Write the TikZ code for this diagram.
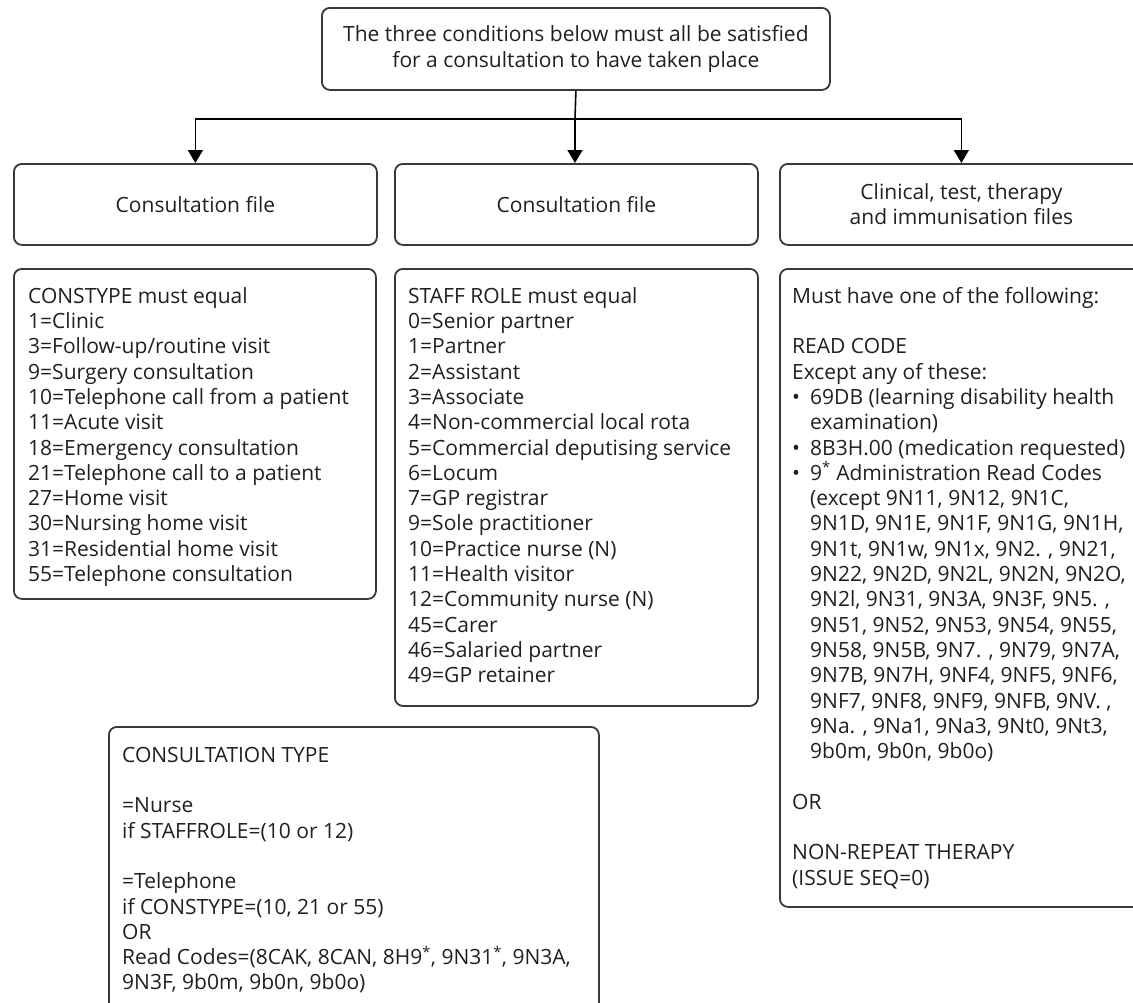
\documentclass[tikz,border=0pt]{standalone}
\usepackage{fontspec}
\setmainfont{Open Sans}
\usetikzlibrary{arrows.meta}
\definecolor{txt}{HTML}{231F20}
\definecolor{edge}{HTML}{383838}
\tikzset{
  boxshape/.style={draw=edge, line width=1.8pt, rounded corners=8pt, anchor=north west, inner sep=0pt},
  bodytext/.style={anchor=north west, inner sep=0pt, align=left, text=txt, font=\fontsize{21}{25.3}\selectfont},
  headtext/.style={anchor=center, inner sep=0pt, align=center, text=txt, font=\fontsize{21}{26}\selectfont},
  conn/.style={draw=black, line width=1.6pt},
  arr/.style={conn, -{Triangle[width=15pt,length=13pt]}},
}
\newcommand{\fl}{\rule{0pt}{20pt}}
\newcommand{\bul}{\makebox[18pt][l]{•}}
\newcommand{\ind}{\hspace*{18pt}}
\begin{document}
\begin{tikzpicture}[x=1pt,y=-1pt]
\useasboundingbox (0,0) rectangle (1133,1002);
\fill[white] (0,0) rectangle (1133,1002);
\clip (0,0) rectangle (1133,1002);
% top
\node[boxshape, minimum width=508pt, minimum height=82pt] (top) at (321,7) {};
\node[headtext] (toptxt) at (top.center) {The three conditions below must all be satisfied\\for a consultation to have taken place};
% level 2
\node[boxshape, minimum width=363pt, minimum height=81pt] (f1) at (13,163) {};
\node[boxshape, minimum width=363pt, minimum height=81pt] (f2) at (394,163) {};
\node[boxshape, minimum width=363pt, minimum height=81pt] (f3) at (779,163) {};
\node[headtext] (f1t) at (f1.center) {Consultation file};
\node[headtext] (f2t) at (f2.center) {Consultation file};
\node[headtext, font=\fontsize{21}{25}\selectfont] (f3t) at (f3.center) {Clinical, test, therapy\\and immunisation files};
% connectors
\coordinate (j) at (575,119);
\draw[conn] (top.south) -- (j);
\draw[arr] (j) -| (f1.north);
\draw[arr] (j) -- (j |- f2.north);
\draw[arr] (j) -| (f3.north);
% level 3
\node[boxshape, minimum width=362pt, minimum height=330pt] (c1) at (13,268) {};
\node[boxshape, minimum width=363pt, minimum height=437pt] (c2) at (394,268) {};
\node[boxshape, minimum width=363pt, minimum height=638pt] (c3) at (779,268) {};
\node[boxshape, minimum width=490pt, minimum height=300pt] (c4) at (108,726) {};
\node[bodytext] (t1) at (28,283) {\fl CONSTYPE must equal\\
1=Clinic\\
3=Follow-up/routine visit\\
9=Surgery consultation\\
10=Telephone call from a patient\\
11=Acute visit\\
18=Emergency consultation\\
21=Telephone call to a patient\\
27=Home visit\\
30=Nursing home visit\\
31=Residential home visit\\
55=Telephone consultation};
\node[bodytext] (t2) at (408,283) {\fl STAFF ROLE must equal\\
0=Senior partner\\
1=Partner\\
2=Assistant\\
3=Associate\\
4=Non-commercial local rota\\
5=Commercial deputising service\\
6=Locum\\
7=GP registrar\\
9=Sole practitioner\\
10=Practice nurse (N)\\
11=Health visitor\\
12=Community nurse (N)\\
45=Carer\\
46=Salaried partner\\
49=GP retainer};
\node[bodytext] (t3) at (792,283) {\fl Must have one of the following:\\[25.3pt]
READ CODE\\
Except any of these:\\
\bul 69DB (learning disability health\\
\ind examination)\\
\bul 8B3H.00 (medication requested)\\
\bul 9\textsuperscript{*} Administration Read Codes\\
\ind (except 9N11, 9N12, 9N1C,\\
\ind 9N1D, 9N1E, 9N1F, 9N1G, 9N1H,\\
\ind 9N1t, 9N1w, 9N1x, 9N2. , 9N21,\\
\ind 9N22, 9N2D, 9N2L, 9N2N, 9N2O,\\
\ind 9N2l, 9N31, 9N3A, 9N3F, 9N5. ,\\
\ind 9N51, 9N52, 9N53, 9N54, 9N55,\\
\ind 9N58, 9N5B, 9N7. , 9N79, 9N7A,\\
\ind 9N7B, 9N7H, 9NF4, 9NF5, 9NF6,\\
\ind 9NF7, 9NF8, 9NF9, 9NFB, 9NV. ,\\
\ind 9Na. , 9Na1, 9Na3, 9Nt0, 9Nt3,\\
\ind 9b0m, 9b0n, 9b0o)\\[25.3pt]
OR\\[25.3pt]
NON-REPEAT THERAPY\\
(ISSUE SEQ=0)};
\node[bodytext] (t4) at (122,742) {\fl CONSULTATION TYPE\\[25.3pt]
=Nurse\\
if STAFFROLE=(10 or 12)\\[25.3pt]
=Telephone\\
if CONSTYPE=(10, 21 or 55)\\
OR\\
Read Codes=(8CAK, 8CAN, 8H9\textsuperscript{*}, 9N31\textsuperscript{*}, 9N3A,\\
9N3F, 9b0m, 9b0n, 9b0o)};
\end{tikzpicture}
\end{document}
